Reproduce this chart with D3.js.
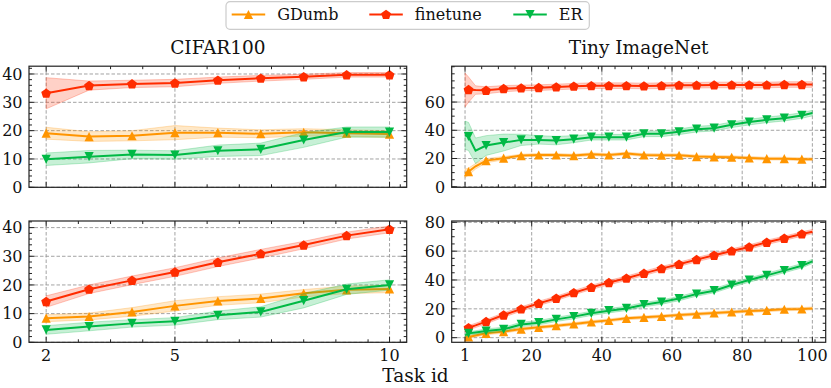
<!DOCTYPE html>
<html>
<head>
<meta charset="utf-8">
<script src="https://cdn.jsdelivr.net/npm/d3@7"></script>
<style>
  body { margin: 0; background: #fff; }
  svg { display: block; font-family: "DejaVu Serif", serif; }
</style>
</head>
<body>
<script>
// task ids
var xsLeft = [2, 3, 4, 5, 6, 7, 8, 9, 10];
var xsRight = [1, 2, 4, 7, 12, 17, 22, 27, 32, 37, 42, 47, 52, 57, 62, 67, 72, 77, 82, 87, 92, 97, 100];
var markLeft = [2, 3, 4, 5, 6, 7, 8, 9, 10];
var markRight = [2, 7, 12, 17, 22, 27, 32, 37, 42, 47, 52, 57, 62, 67, 72, 77, 82, 87, 92, 97];

// CIFAR100, top row
var gdumbC1 = [19.1, 17.9, 18.2, 19.3, 19.3, 18.9, 19.4, 19.1, 18.8];
var gdumbC1sd = [2.1, 1.7, 1.8, 2.5, 1.6, 1.4, 1.3, 1.2, 1.2];
var finetuneC1 = [33.2, 35.9, 36.5, 36.8, 37.8, 38.5, 39.0, 39.7, 39.7];
var finetuneC1sd = [5.5, 1.6, 1.3, 1.3, 1.1, 1.0, 0.9, 0.8, 0.8];
var erC1 = [9.9, 10.8, 11.6, 11.4, 12.9, 13.4, 16.7, 19.5, 19.5];
var erC1sd = [2.2, 2.2, 1.5, 1.5, 2.0, 2.2, 2.6, 1.8, 1.8];

// CIFAR100, bottom row
var gdumbC2 = [8.4, 9.0, 10.6, 12.7, 14.4, 15.3, 17.1, 18.3, 18.6];
var gdumbC2sd = [1.2, 1.2, 1.5, 1.8, 1.5, 1.5, 1.3, 1.3, 1.3];
var finetuneC2 = [14.2, 18.5, 21.6, 24.5, 27.9, 30.9, 33.9, 37.2, 39.4];
var finetuneC2sd = [2.0, 1.5, 1.5, 1.5, 1.5, 1.5, 1.3, 1.2, 1.2];
var erC2 = [4.3, 5.5, 6.6, 7.3, 9.4, 10.6, 14.5, 18.5, 20.0];
var erC2sd = [1.5, 1.5, 1.3, 1.3, 1.5, 1.8, 2.5, 1.8, 1.8];

// Tiny ImageNet, top row
var gdumbT1 = [9.5, 10.7, 14.5, 18.5, 20.2, 22.1, 22.5, 22.5, 22.1, 23.0, 22.5, 23.5, 22.5, 22.3, 22.3, 21.4, 21.1, 20.9, 20.4, 19.9, 19.9, 19.5, 19.5];
var gdumbT1sd = [3, 2.5, 2, 1.5, 1.2, 1, 1, 1, 1, 1, 1, 1, 1, 1, 1, 1, 1, 1, 1, 1, 1, 1, 1];
var finetuneT1 = [68.5, 68.8, 68.5, 68.3, 69.5, 70.0, 70.2, 70.7, 71.2, 71.6, 71.6, 71.6, 71.4, 71.6, 71.9, 71.9, 72.1, 72.1, 72.1, 72.1, 72.4, 72.4, 72.4];
var finetuneT1sd = [12, 9, 3, 2.5, 2.2, 2, 2, 2, 2, 2, 2, 2, 2, 2, 2, 2, 2, 2, 2, 2, 2, 2, 2];
var erT1 = [36.5, 35.6, 25.5, 29.2, 31.3, 33.2, 33.2, 32.7, 33.7, 35.1, 35.1, 35.1, 37.5, 37.5, 38.9, 40.8, 41.5, 43.9, 45.8, 47.4, 48.6, 50.5, 52.2];
var erT1sd = [10, 10, 9, 7, 6, 4, 3, 3, 2.5, 2, 2, 2, 2, 2, 2, 2, 2, 2, 2, 2, 2, 2, 2];

// Tiny ImageNet, bottom row
var gdumbT2 = [0.3, 0.5, 1.5, 3.0, 4.2, 6.0, 7.2, 8.3, 9.5, 10.9, 12.0, 13.4, 14.1, 14.8, 15.7, 16.4, 17.1, 17.8, 18.5, 19.0, 19.7, 19.9, 20.3];
var gdumbT2sd = [1, 1, 1, 1, 1, 1, 1, 1, 1, 1, 1, 1, 1, 1, 1, 1, 1, 1, 1, 1, 1, 1, 1];
var finetuneT2 = [5.5, 6.9, 8.5, 11.1, 15.7, 19.9, 23.8, 27.3, 31.2, 34.9, 38.2, 41.2, 44.6, 47.9, 50.9, 54.1, 57.1, 60.1, 62.9, 66.1, 68.9, 71.9, 73.5];
var finetuneT2sd = [1.5, 1.5, 1.5, 1.5, 1.5, 1.5, 1.5, 1.5, 1.5, 1.5, 1.5, 1.5, 1.5, 1.5, 1.5, 1.5, 1.5, 1.5, 1.5, 1.5, 1.5, 1.5, 1.5];
var erT2 = [1.5, 3.0, 3.6, 4.6, 5.8, 9.2, 10.4, 12.7, 14.6, 16.9, 18.7, 20.3, 22.9, 24.7, 27.1, 30.3, 32.6, 36.5, 40.0, 43.2, 46.5, 49.9, 52.9];
var erT2sd = [1.2, 1.2, 1.2, 1.5, 1.5, 1.5, 1.5, 1.5, 1.5, 1.5, 1.5, 1.5, 1.5, 1.5, 1.5, 1.5, 1.5, 1.5, 1.5, 1.5, 1.5, 1.5, 1.5];

var methods = ["GDumb", "finetune", "ER"];
var colors = ["#FF9500", "#FF2C00", "#00B945"];
var shapes = ["up", "pent", "down"];

var xTicksLeft = [2, 5, 10];
var xTicksRight = [1, 20, 40, 60, 80, 100];
var yTicksLeft = [0, 10, 20, 30, 40];
var yTicksTR = [0, 20, 40, 60];
var yTicksBR = [0, 20, 40, 60, 80];

var width = 831, height = 388;

var panels = [
  {title: "CIFAR100", x0: 29, x1: 406.7, y0: 66.2, y1: 187.3, xd: [1.6, 10.4], yd: [0, 42.75],
   xs: xsLeft, marks: markLeft, xt: xTicksLeft, yt: yTicksLeft, xminor: 0.75, yminor: 2, showX: false,
   series: [[gdumbC1, gdumbC1sd], [finetuneC1, finetuneC1sd], [erC1, erC1sd]]},
  {title: "Tiny ImageNet", x0: 451.7, x1: 825.7, y0: 66.2, y1: 187.3, xd: [-2.8, 103.8], yd: [-0.4, 85.4],
   xs: xsRight, marks: markRight, xt: xTicksRight, yt: yTicksTR, xminor: 4.75, yminor: 5, showX: false,
   series: [[gdumbT1, gdumbT1sd], [finetuneT1, finetuneT1sd], [erT1, erT1sd]]},
  {title: null, x0: 29, x1: 406.7, y0: 221, y1: 342.3, xd: [1.6, 10.4], yd: [0, 42.3],
   xs: xsLeft, marks: markLeft, xt: xTicksLeft, yt: yTicksLeft, xminor: 0.75, yminor: 2, showX: true,
   series: [[gdumbC2, gdumbC2sd], [finetuneC2, finetuneC2sd], [erC2, erC2sd]]},
  {title: null, x0: 451.7, x1: 825.7, y0: 221, y1: 342.3, xd: [-2.8, 103.8], yd: [-3.2, 80.9],
   xs: xsRight, marks: markRight, xt: xTicksRight, yt: yTicksBR, xminor: 4.75, yminor: 5, showX: true,
   series: [[gdumbT2, gdumbT2sd], [finetuneT2, finetuneT2sd], [erT2, erT2sd]]}
];

var svg = d3.select("body").append("svg")
    .attr("width", width)
    .attr("height", height);

function markerPath(shape, r) {
  if (shape == "up") return "M0," + (-r) + "L" + r + "," + r + "L" + (-r) + "," + r + "Z";
  if (shape == "down") return "M0," + r + "L" + r + "," + (-r) + "L" + (-r) + "," + (-r) + "Z";
  var pts = d3.range(5).map(function(i) {
    var a = -Math.PI / 2 + i * 2 * Math.PI / 5;
    return [r * Math.cos(a), r * Math.sin(a) + 0.4];
  });
  return "M" + pts.join("L") + "Z";
}

function minorTicks(start, step, dom, majors) {
  var out = [];
  var k0 = Math.ceil((dom[0] - start) / step);
  for (var k = k0; start + k * step <= dom[1]; k++) {
    var v = start + k * step;
    if (!majors.some(function(m) { return Math.abs(m - v) < 1e-6; })) out.push(v);
  }
  return out;
}

panels.forEach(function(p, pi) {
  var x = d3.scaleLinear().domain(p.xd).range([p.x0, p.x1]);
  var y = d3.scaleLinear().domain(p.yd).range([p.y1, p.y0]);
  var g = svg.append("g");

  var clipId = "clip" + pi;
  svg.append("clipPath").attr("id", clipId)
    .append("rect")
      .attr("x", p.x0).attr("y", p.y0)
      .attr("width", p.x1 - p.x0).attr("height", p.y1 - p.y0);

  // grid
  var grid = g.append("g")
      .attr("stroke", "#999")
      .attr("stroke-width", 0.9)
      .attr("stroke-dasharray", "3.5,2");
  grid.selectAll(".gx").data(p.xt).enter().append("line")
      .attr("x1", d => x(d)).attr("x2", d => x(d))
      .attr("y1", p.y0).attr("y2", p.y1);
  grid.selectAll(".gy").data(p.yt).enter().append("line")
      .attr("x1", p.x0).attr("x2", p.x1)
      .attr("y1", d => y(d)).attr("y2", d => y(d));

  var plot = g.append("g").attr("clip-path", "url(#" + clipId + ")");

  p.series.forEach(function(s, si) {
    var mean = s[0], sd = s[1];
    var pts = p.xs.map(function(v, i) { return {x: v, m: mean[i], lo: mean[i] - sd[i], hi: mean[i] + sd[i]}; });
    var col = colors[si];

    var area = d3.area().x(d => x(d.x)).y0(d => y(d.lo)).y1(d => y(d.hi));
    plot.append("path").datum(pts)
        .attr("d", area)
        .attr("fill", col)
        .attr("fill-opacity", 0.22)
        .attr("stroke", col)
        .attr("stroke-opacity", 0.25)
        .attr("stroke-width", 1);

    var line = d3.line().x(d => x(d.x)).y(d => y(d.m));
    plot.append("path").datum(pts)
        .attr("d", line)
        .attr("fill", "none")
        .attr("stroke", col)
        .attr("stroke-width", 2);

    plot.selectAll(".mk" + si)
        .data(pts.filter(d => p.marks.indexOf(d.x) >= 0))
        .enter().append("path")
        .attr("d", markerPath(shapes[si], shapes[si] == "pent" ? 5.2 : 4.6))
        .attr("transform", d => "translate(" + x(d.x) + "," + y(d.m) + ")")
        .attr("fill", col);
  });

  // frame
  g.append("rect")
      .attr("x", p.x0).attr("y", p.y0)
      .attr("width", p.x1 - p.x0).attr("height", p.y1 - p.y0)
      .attr("fill", "none")
      .attr("stroke", "#222")
      .attr("stroke-width", 1.2);

  // ticks, inward, on all four sides
  var tk = g.append("g").attr("stroke", "#222").attr("stroke-width", 1);
  var xMinor = minorTicks(p.xt[0], p.xminor, p.xd, p.xt);
  var yMinor = minorTicks(0, p.yminor, p.yd, p.yt);
  function xTickLines(vals, len) {
    vals.forEach(function(v) {
      tk.append("line").attr("x1", x(v)).attr("x2", x(v)).attr("y1", p.y1).attr("y2", p.y1 - len);
      tk.append("line").attr("x1", x(v)).attr("x2", x(v)).attr("y1", p.y0).attr("y2", p.y0 + len);
    });
  }
  function yTickLines(vals, len) {
    vals.forEach(function(v) {
      tk.append("line").attr("y1", y(v)).attr("y2", y(v)).attr("x1", p.x0).attr("x2", p.x0 + len);
      tk.append("line").attr("y1", y(v)).attr("y2", y(v)).attr("x1", p.x1).attr("x2", p.x1 - len);
    });
  }
  xTickLines(p.xt, 5.5);
  xTickLines(xMinor, 3);
  yTickLines(p.yt, 5.5);
  yTickLines(yMinor, 3);

  g.selectAll(".yl").data(p.yt).enter().append("text")
      .attr("x", p.x0 - 6.5)
      .attr("y", d => y(d) + 5.8)
      .attr("text-anchor", "end")
      .attr("font-size", 16)
      .attr("fill", "#111")
      .text(d => d);

  if (p.showX) {
    g.selectAll(".xl").data(p.xt).enter().append("text")
        .attr("x", d => x(d))
        .attr("y", p.y1 + 18.5)
        .attr("text-anchor", "middle")
        .attr("font-size", 16)
        .attr("fill", "#111")
        .text(d => d);
  }

  if (p.title) {
    g.append("text")
        .attr("x", (p.x0 + p.x1) / 2)
        .attr("y", 54)
        .attr("text-anchor", "middle")
        .attr("font-size", 18.5)
        .attr("fill", "#111")
        .text(p.title);
  }
});

svg.append("text")
    .attr("x", 415.5)
    .attr("y", 381.5)
    .attr("text-anchor", "middle")
    .attr("font-size", 18.5)
    .attr("fill", "#111")
    .text("Task id");

// legend
var legend = svg.append("g");
legend.append("rect")
    .attr("x", 226).attr("y", 1.7)
    .attr("width", 363.3).attr("height", 27.6)
    .attr("rx", 4)
    .attr("fill", "#fff")
    .attr("stroke", "#ccc")
    .attr("stroke-width", 1.2);
var legX = [231.7, 369.3, 513.3];
methods.forEach(function(m, i) {
  var lg = legend.append("g").attr("transform", "translate(" + legX[i] + ",14.5)");
  lg.append("line").attr("x1", 0).attr("x2", 33.5)
      .attr("stroke", colors[i]).attr("stroke-width", 2);
  lg.append("path")
      .attr("d", markerPath(shapes[i], shapes[i] == "pent" ? 5.2 : 4.6))
      .attr("transform", "translate(16.75,0)")
      .attr("fill", colors[i]);
  lg.append("text")
      .attr("x", 45.5).attr("y", 5.8)
      .attr("font-size", 16)
      .attr("fill", "#111")
      .text(m);
});
</script>
</body>
</html>
